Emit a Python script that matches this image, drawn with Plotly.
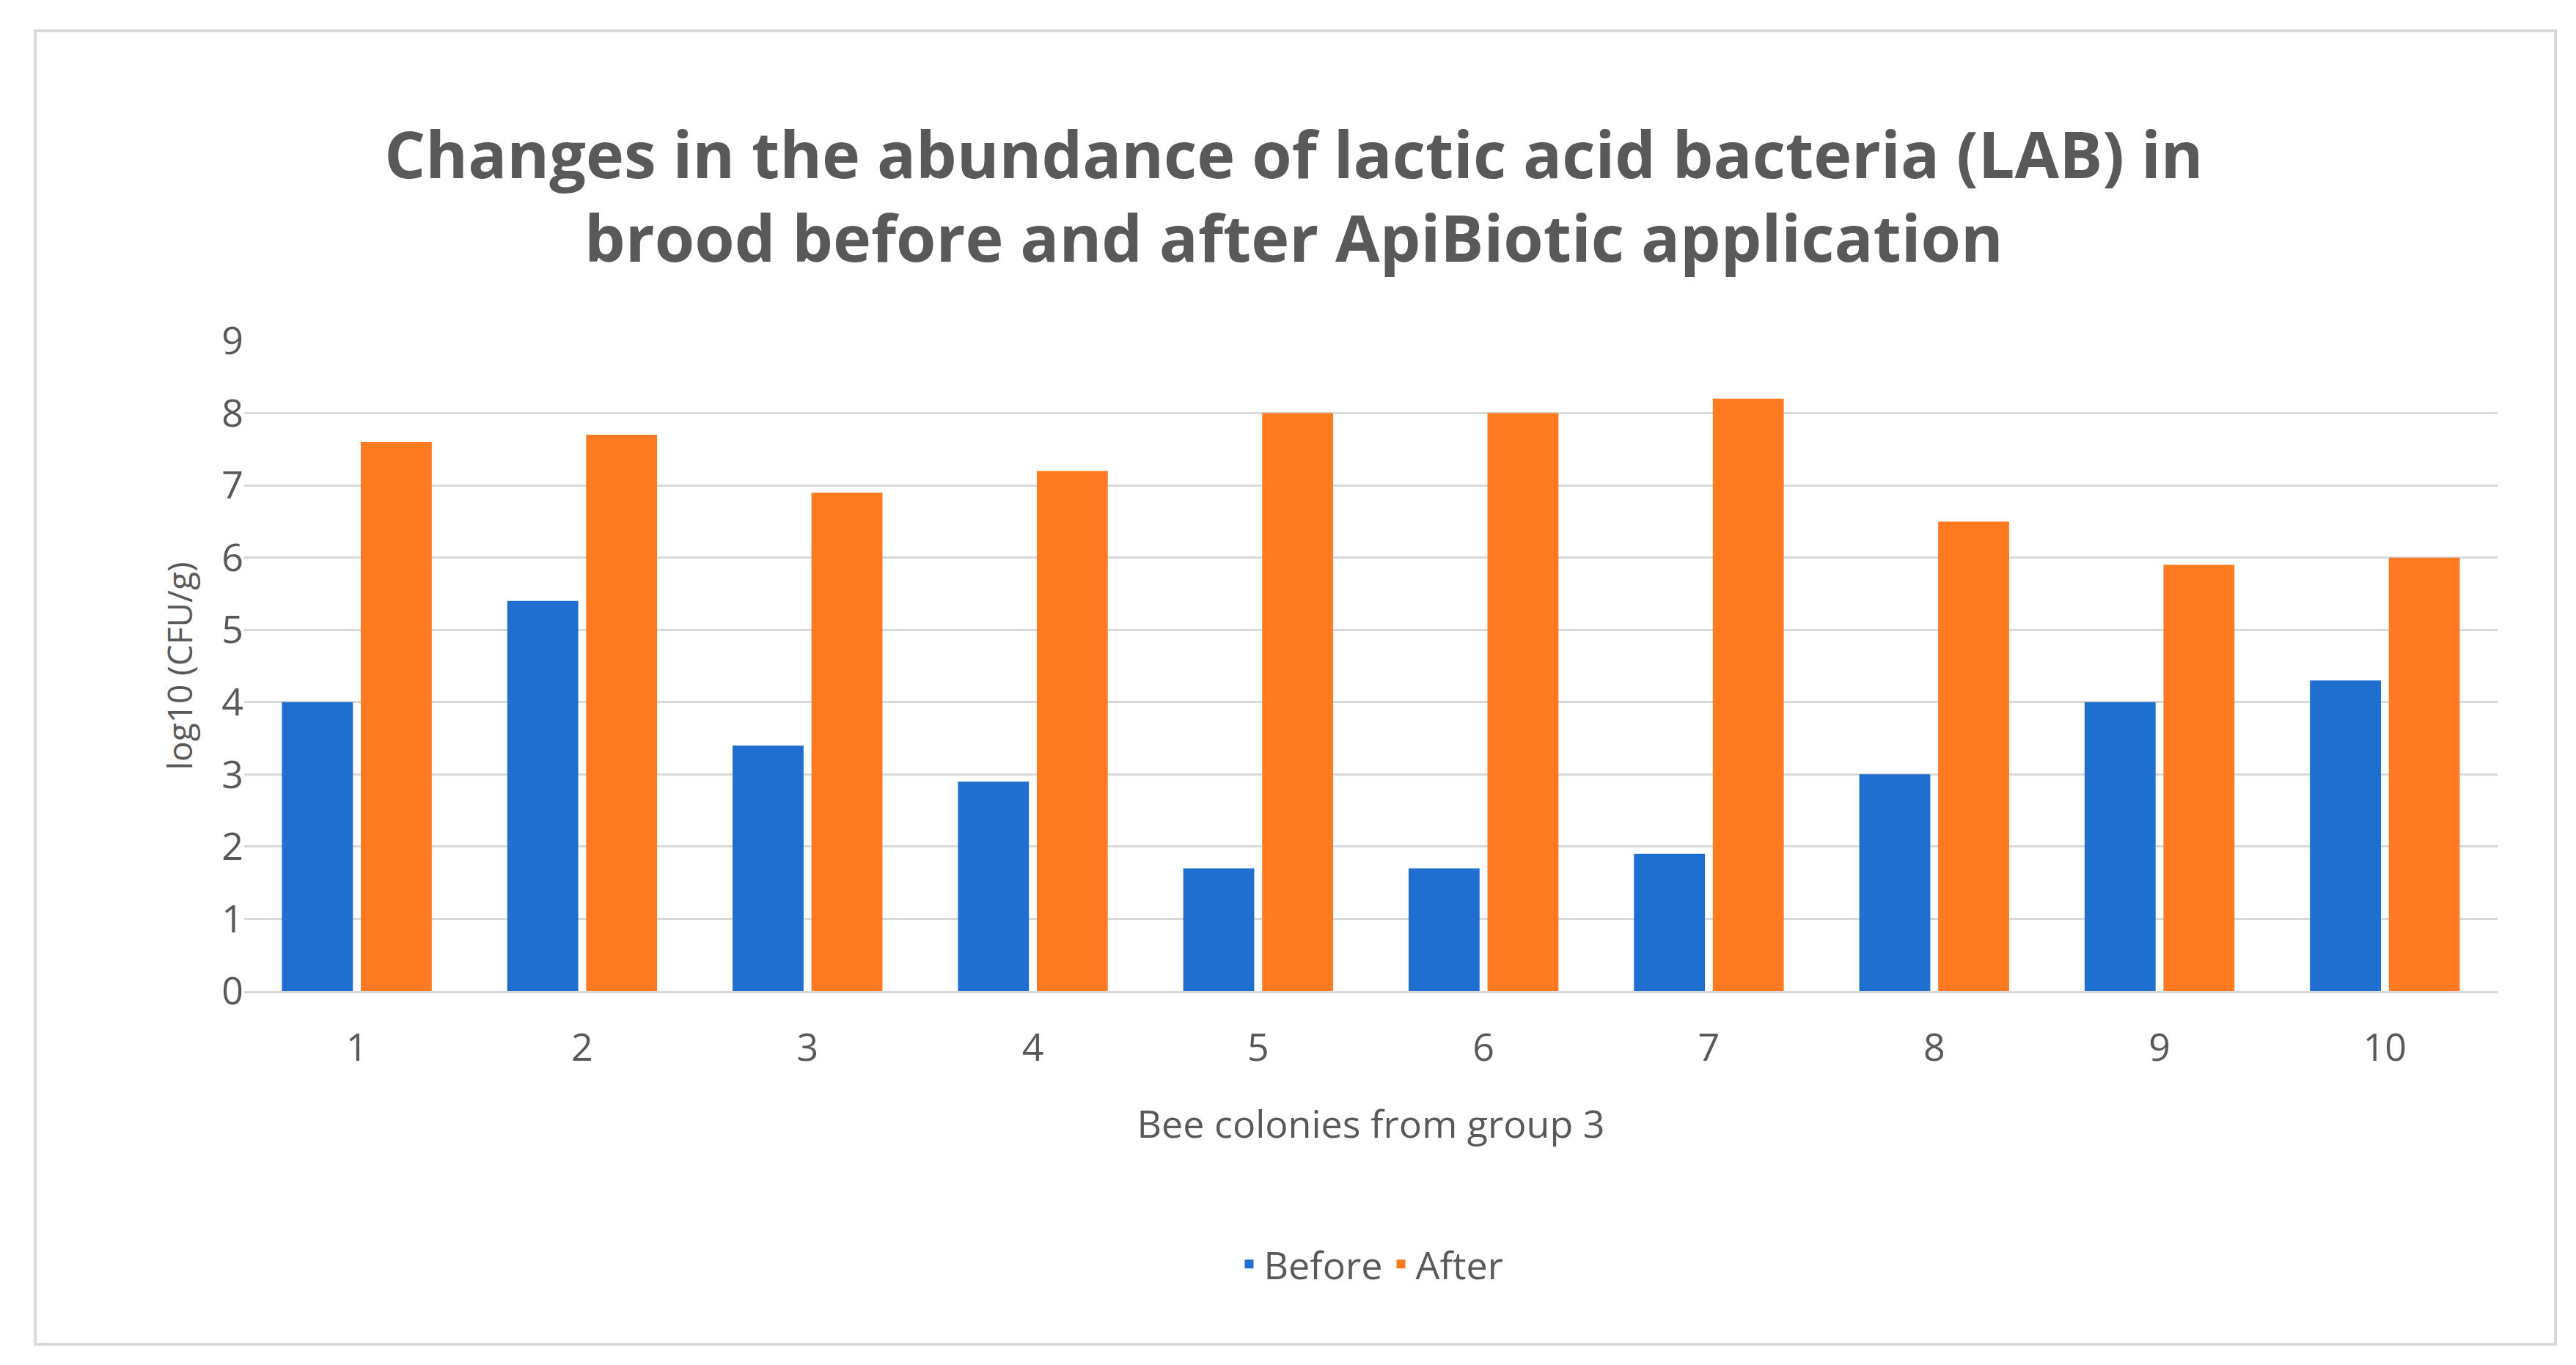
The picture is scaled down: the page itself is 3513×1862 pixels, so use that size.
import plotly.graph_objects as go

colonies = ["1","2","3","4","5","6","7","8","9","10"]
before = [4.0, 5.4, 3.4, 2.9, 1.7, 1.7, 1.9, 3.0, 4.0, 4.3]
after = [7.6, 7.7, 6.9, 7.2, 8.0, 8.0, 8.2, 6.5, 5.9, 6.0]

gray = "#595959"
fig = go.Figure()
fig.add_bar(x=colonies, y=before, name="Before", marker=dict(color="#1F6FD0", line=dict(width=0)))
fig.add_bar(x=colonies, y=after, name="After", marker=dict(color="#FF7A21", line=dict(width=0)))

fig.update_layout(
    width=3513, height=1862,
    paper_bgcolor="white", plot_bgcolor="white",
    margin=dict(l=325, r=115, t=457, b=518),
    barmode="group", bargap=0.3, bargroupgap=0.1,
    title=dict(text="Changes in the abundance of lactic acid bacteria (LAB) in<br>brood before and after ApiBiotic application",
               x=0.5, xanchor="center", y=0.874, yanchor="middle",
               font=dict(family="Open Sans", size=88, color=gray, weight="bold")),
    font=dict(family="Open Sans", color=gray),
    xaxis=dict(title=dict(text="Bee colonies from group 3", font=dict(size=52), standoff=55),
               tickfont=dict(size=52), ticklabelstandoff=30,
               showline=True, linecolor="#D9D9D9", linewidth=3, ticks=""),
    yaxis=dict(title=dict(text="log10 (CFU/g)", font=dict(size=46), standoff=25),
               range=[0, 9], dtick=1, tickfont=dict(size=52),
               gridcolor="#D9D9D9", gridwidth=3, zeroline=False, ticks=""),
    legend=dict(orientation="h", x=0.5, xanchor="center", y=-0.42, yanchor="middle",
                font=dict(size=52), itemwidth=30),
    shapes=[dict(type="rect", xref="paper", yref="paper", x0=-0.0927, x1=1.0257, y0=-0.543, y1=1.477,
                 line=dict(color="#D9D9D9", width=4), fillcolor="rgba(0,0,0,0)")],
)
fig.write_html("out.html")
